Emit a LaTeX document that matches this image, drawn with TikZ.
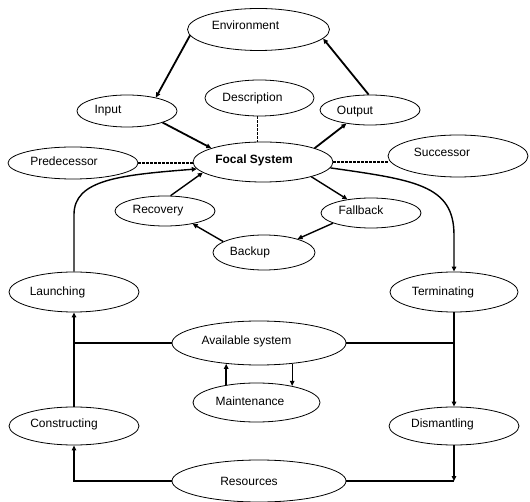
\documentclass[tikz,border=0pt]{standalone}
\usepackage{fontspec}
\setmainfont{Liberation Sans}
\usetikzlibrary{shapes.geometric,arrows.meta}
\newcommand{\lbl}[3]{\raisebox{#2}[0pt][0pt]{\makebox[0pt]{\hspace*{#1}#3}}}
\tikzset{
  ell/.style 2 args={ellipse, draw, line width=0.8pt, inner sep=0pt,
    minimum width=#1pt, minimum height=#2pt, font=\fontsize{12}{14}\selectfont},
  tip/.style={-{Triangle[length=5pt,width=4.5pt]}},
  thk/.style={tip, line width=1.8pt},
  med/.style={tip, line width=1.4pt},
  vrt/.style={line width=1.5pt},
  thn/.style={line width=1.1pt},
  dsh/.style={line width=1.1pt, dash pattern=on 2.5pt off 1.5pt}
}
\begin{document}
\begin{tikzpicture}[x=1pt,y=-1pt]
\useasboundingbox (0,0) rectangle (530,502);
% nodes
\node[ell={142}{42}] (env) at (258.5,29.5) {\lbl{-26pt}{-0.3pt}{Environment}};
\node[ell={100}{32}] (inp) at (127,111) {\lbl{-38pt}{-2.3pt}{Input}};
\node[ell={109}{36}] (desc) at (259.5,98) {\lbl{-14pt}{-3.3pt}{Description}};
\node[ell={100}{30}] (out) at (370,110) {\lbl{-30pt}{-4.3pt}{Output}};
\node[ell={130}{32}] (pred) at (73,163) {\lbl{-18pt}{-2.8pt}{Predecessor}};
\node[ell={140}{40}] (foc) at (263,162) {\lbl{-18pt}{-1.3pt}{\bfseries Focal System}};
\node[ell={140}{42}] (succ) at (458,156) {\lbl{-32pt}{-0.3pt}{Successor}};
\node[ell={100}{30}] (rec) at (165,211) {\lbl{-14pt}{-2.3pt}{Recovery}};
\node[ell={100}{30}] (fb) at (371,213) {\lbl{-20pt}{-1.3pt}{Fallback}};
\node[ell={102}{35}] (bk) at (264,252.5) {\lbl{-28pt}{-3.5pt}{Backup}};
\node[ell={130}{40}] (launch) at (74,292) {\lbl{-33pt}{-3.3pt}{Launching}};
\node[ell={128}{40}] (term) at (454,292) {\lbl{-22pt}{-3.3pt}{Terminating}};
\node[ell={174}{44}] (avail) at (259,343) {\lbl{-25pt}{-1.3pt}{Available system}};
\node[ell={127}{39}] (maint) at (256.5,402.5) {\lbl{-13pt}{-3.3pt}{Maintenance}};
\node[ell={130}{38}] (cons) at (74,426) {\lbl{-20pt}{-1.3pt}{Constructing}};
\node[ell={130}{38}] (dism) at (454,426) {\lbl{-23pt}{-1.3pt}{Dismantling}};
\node[ell={174}{42}] (res) at (259,481) {\lbl{-20pt}{-4.3pt}{Resources}};
% environment cycle
\draw[thk] (env.185) -- (inp.25);
\draw[thk] (inp.342) -- (foc.165);
\draw[thk] (foc.15) -- (out.210);
\draw[thk] (out.95) -- (env.352);
% description / predecessor / successor
\draw[dsh] (desc.264) -- (desc.264 |- foc.north);
\draw[dsh] (pred.east) -- (pred.east -| foc.west);
\draw[dsh] (foc.east) -- (foc.east -| succ.west);
% backup cycle
\draw[med] (foc.343) -- (fb.150);
\draw[med] (fb.195) -- (bk.22);
\draw[med] (bk.165) -- (rec.335);
\draw[med] (rec.70) -- (foc.190);
% life cycle
\draw[med] (launch.north) -- ++(0,-57) .. controls ++(0,-35) and (120,175) .. (foc.186);
\draw[med] (foc.355) .. controls (415,180) and (454,185) .. (454,235) -- (term.north);
\draw[tip,vrt] (cons.north) -- (launch.south);
\draw[tip,vrt] (term.south) -- (dism.north);
\draw[thn] (avail.west) -- (avail.west -| launch.south);
\draw[thn] (avail.east) -- (avail.east -| term.south);
\draw[tip,thn] (res.west) -| (cons.south);
\draw[tip,vrt] (dism.south) -- (dism.south |- res.east);
\draw[thn] (res.east) -- (dism.south |- res.east);
% maintenance
\draw[tip,vrt] (maint.150) -- (maint.150 |- avail.213);
\draw[tip,thn] (avail.328) -- (avail.328 |- maint.25);
\end{tikzpicture}
\end{document}
